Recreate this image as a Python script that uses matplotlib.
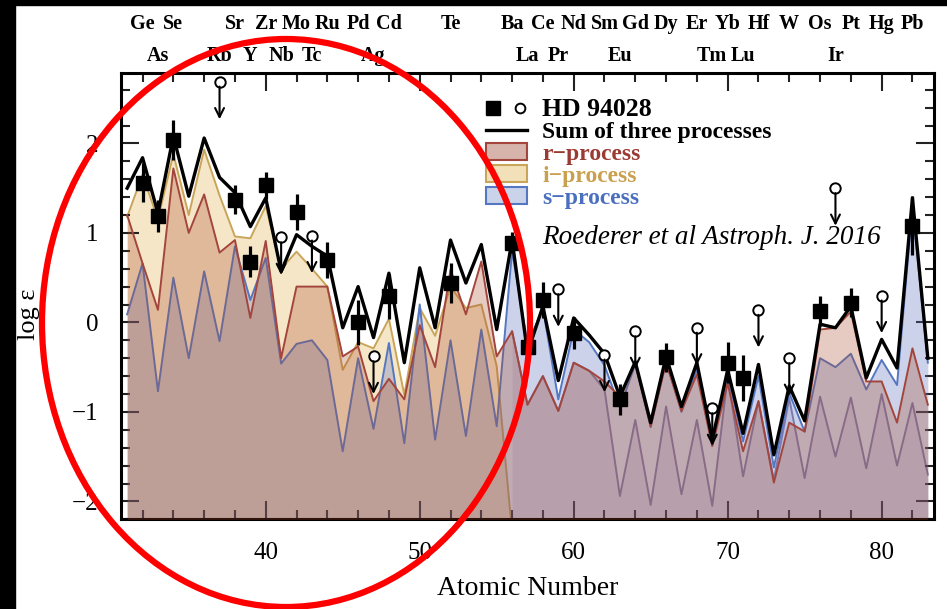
import matplotlib
matplotlib.use("Agg")
import matplotlib.pyplot as plt
import numpy as np
from matplotlib.patches import Rectangle, Ellipse, Patch
from matplotlib.lines import Line2D
from matplotlib.legend_handler import HandlerTuple
from matplotlib.ticker import MultipleLocator

plt.rcParams['font.family'] = ['Liberation Serif', 'DejaVu Serif']

# ---------------- data ----------------
Z = list(range(31, 84))

sum_vals = [1.50, 1.84, 1.22, 2.08, 1.41, 2.06, 1.62, 1.45, 1.07, 1.39,
            0.57, 0.98, 0.85, 0.74, -0.06, 0.40, -0.17, 0.55, -0.45, 0.61,
            -0.06, 0.92, 0.44, 0.87, -0.08, 0.92, -0.34, 0.18, -0.65, 0.05,
            -0.14, -0.35, -0.83, -0.44, -1.12, -0.38, -0.94, -0.45, -1.31, -0.53,
            -1.24, -0.47, -1.48, -0.71, -1.10, -0.02, -0.06, 0.18, -0.62, -0.19,
            -0.51, 1.39, -0.40]

r_vals = [1.20, 0.66, 0.14, 1.72, 1.00, 1.43, 0.78, 0.92, 0.05, 0.91,
          -0.40, 0.40, 0.40, 0.40, -0.38, -0.27, -0.88, -0.63, -0.86, -0.03,
          -0.50, 0.59, 0.09, 0.68, -0.38, -0.10, -0.92, -0.60, -0.99, -0.45,
          -0.54, -0.66, -0.83, -0.45, -1.16, -0.45, -0.99, -0.58, -1.38, -0.68,
          -1.44, -0.88, -1.79, -1.12, -1.22, -0.08, -0.06, 0.12, -0.66, -0.66,
          -1.12, -0.29, -0.92]

# i-process: left part (Z = 31..56) drops off at Ba
i_vals = [1.18, 1.65, 1.15, 1.88, 1.20, 1.93, 1.42, 0.96, 0.94, 1.30,
          0.60, 0.79, 0.60, 0.40, -0.53, -0.22, -0.29, 0.04, -0.81, 0.16,
          -0.15, 0.40, 0.16, 0.20, -0.49, -2.35]

# lower component seen at heavy elements (Z = 56..83)
low_vals = [-0.10, -0.92, -0.60, -0.99, -0.45, -0.54, -0.75, -1.94, -1.09, -2.04,
            -0.94, -1.92, -1.09, -2.05, -0.60, -1.72, -0.88, -1.76, -0.85, -1.74,
            -0.83, -1.50, -0.84, -1.63, -0.80, -1.60, -0.90, -1.70]

s_vals = [0.09, 0.66, -0.77, 0.50, -0.40, 0.57, -0.21, 0.85, 0.25, 0.72,
          -0.46, -0.24, -0.20, -0.42, -1.44, -0.40, -1.19, -0.23, -1.35, 0.20,
          -1.31, -0.20, -1.27, -0.08, -1.16, 0.80, -0.25, 0.16, -0.86, -0.08,
          -0.22, -0.48, -0.95, -0.47, -1.17, -0.43, -1.00, -0.52, -1.38, -0.58,
          -1.33, -0.60, -1.62, -0.79, -1.22, -0.40, -0.50, -0.35, -0.75, -0.42,
          -0.70, 1.30, -0.45]

det_z = [32, 33, 34, 38, 39, 40, 42, 44, 46, 48, 52, 56, 57, 58, 60, 63, 66, 70, 71, 76, 78, 82]
det_v = [1.56, 1.19, 2.04, 1.37, 0.68, 1.53, 1.23, 0.70, 0.00, 0.29, 0.44, 0.89,
         -0.28, 0.25, -0.12, -0.86, -0.39, -0.45, -0.62, 0.13, 0.22, 1.08]
det_err = [0.22, 0.18, 0.22, 0.16, 0.17, 0.15, 0.20, 0.20, 0.25, 0.25, 0.22, 0.12,
           0.15, 0.20, 0.18, 0.17, 0.16, 0.23, 0.26, 0.17, 0.16, 0.33]

ul_z = [37, 41, 43, 47, 59, 62, 64, 68, 69, 72, 74, 77, 80]
ul_v = [2.69, 0.95, 0.97, -0.38, 0.37, -0.36, -0.10, -0.06, -0.96, 0.14, -0.40, 1.50, 0.30]

top_row1 = {32: 'Ge', 34: 'Se', 38: 'Sr', 40: 'Zr', 42: 'Mo', 44: 'Ru', 46: 'Pd', 48: 'Cd',
            52: 'Te', 56: 'Ba', 58: 'Ce', 60: 'Nd', 62: 'Sm', 64: 'Gd', 66: 'Dy', 68: 'Er',
            70: 'Yb', 72: 'Hf', 74: 'W', 76: 'Os', 78: 'Pt', 80: 'Hg', 82: 'Pb'}
top_row2 = {33: 'As', 37: 'Rb', 39: 'Y', 41: 'Nb', 43: 'Tc', 47: 'Ag', 57: 'La', 59: 'Pr',
            63: 'Eu', 69: 'Tm', 71: 'Lu', 77: 'Ir'}

# ---------------- colors ----------------
r_line = '#a3453c'
i_line = '#c9a55a'
s_line = '#5577c2'
low_line = '#8a7ea6'
r_fill = (0.66, 0.28, 0.14, 0.28)
i_fill = (0.93, 0.80, 0.55, 0.48)
s_fill = (0.38, 0.45, 0.75, 0.32)
low_fill = (0.45, 0.40, 0.62, 0.14)

fig = plt.figure(figsize=(9.47, 6.09), dpi=100)
ax = fig.add_axes([121/947, 89.7/609, 813/947, 446.6/609])

floor = -3.0
Zi = Z[:len(i_vals)]
Zl = Z[len(Z) - len(low_vals):]
ax.fill_between(Zi, i_vals, floor, color=i_fill, lw=0, zorder=1)
ax.plot(Zi, i_vals, color=i_line, lw=1.4, zorder=1.1)
ax.fill_between(Zl, low_vals, floor, color=low_fill, lw=0, zorder=1)
ax.plot(Zl, low_vals, color=low_line, lw=1.4, zorder=1.1)
ax.fill_between(Z, s_vals, floor, color=s_fill, lw=0, zorder=2)
ax.plot(Z, s_vals, color=s_line, lw=1.4, zorder=2.1)
ax.fill_between(Z, r_vals, floor, color=r_fill, lw=0, zorder=3)
ax.plot(Z, r_vals, color=r_line, lw=1.4, zorder=3.1)
ax.plot(Z, sum_vals, color='black', lw=2.4, zorder=4)

ax.errorbar(det_z, det_v, yerr=det_err, fmt='s', color='black', ms=10.5,
            elinewidth=2.3, capsize=0, zorder=6)
ax.plot(ul_z, ul_v, 'o', mfc='white', mec='black', mew=1.4, ms=7.5, zorder=6)
for zz, vv in zip(ul_z, ul_v):
    ax.annotate('', xy=(zz, vv - 0.42), xytext=(zz, vv - 0.055),
                arrowprops=dict(arrowstyle='->', lw=1.5, color='black',
                                mutation_scale=16, shrinkA=0, shrinkB=0), zorder=6)

ax.set_xlim(30.6, 83.4)
ax.set_ylim(-2.2, 2.79)
ax.xaxis.set_major_locator(MultipleLocator(10))
ax.xaxis.set_minor_locator(MultipleLocator(2))
ax.yaxis.set_major_locator(MultipleLocator(1))
ax.yaxis.set_minor_locator(MultipleLocator(0.2))
ax.tick_params(which='both', direction='in', top=True, right=True, width=1.5, color='#222222')
ax.tick_params(which='major', length=13, labelsize=18, pad=16)
ax.tick_params(which='minor', length=6.5)
ax.set_yticks([-2, -1, 0, 1, 2])
ax.set_yticklabels(['\u22122', '\u22121', '0', '1', '2'])
for sp in ax.spines.values():
    sp.set_linewidth(2.2)
ax.set_xlabel('Atomic Number', fontsize=20)
ax.xaxis.set_label_coords(0.5, -0.128)
ax.set_ylabel('log \u03b5', fontsize=19)
ax.yaxis.set_label_coords(-0.100, 0.46)

trans = ax.get_xaxis_transform()
for zz, name in top_row1.items():
    ax.text(zz, 1.109, name, transform=trans, ha='center', va='center',
            fontsize=14.5, fontweight='bold', clip_on=False)
for zz, name in top_row2.items():
    ax.text(zz, 1.037, name, transform=trans, ha='center', va='center',
            fontsize=14.5, fontweight='bold', clip_on=False)

handles = [
    (Line2D([], [], marker='s', ls='none', color='black', ms=10),
     Line2D([], [], marker='o', ls='none', mfc='white', mec='black', mew=1.4, ms=7)),
    Line2D([], [], color='black', lw=2.4),
    Patch(facecolor=(0.84, 0.70, 0.67), edgecolor=r_line, lw=1.5),
    Patch(facecolor=(0.95, 0.88, 0.72), edgecolor=i_line, lw=1.5),
    Patch(facecolor=(0.79, 0.83, 0.92), edgecolor=s_line, lw=1.5),
]
labels = ['HD 94028', 'Sum of three processes', 'r\u2212process', 'i\u2212process', 's\u2212process']
leg = ax.legend(handles, labels, loc='upper left', bbox_to_anchor=(0.434, 0.97),
                frameon=False, borderpad=0, handlelength=1.75, handletextpad=0.65,
                labelspacing=0.02, prop={'size': 17, 'weight': 'bold'},
                handler_map={tuple: HandlerTuple(ndivide=None, pad=0.5)})
for t, c in zip(leg.get_texts(), ['black', 'black', '#9b3a33', '#c9a04e', '#4a6fbf']):
    t.set_color(c)
leg.get_texts()[0].set_fontsize(18.5)
leg.set_zorder(7)

ax.text(0.518, 0.63, 'Roederer et al Astroph. J. 2016', transform=ax.transAxes,
        fontsize=19.5, style='italic', ha='left', va='center', zorder=7)

# frame strips and annotation ellipse
fig.patches.append(Rectangle((0, 0), 15/947, 1, transform=fig.transFigure,
                             color='black', zorder=0))
fig.patches.append(Rectangle((0, 1 - 5/609), 1, 5/609, transform=fig.transFigure,
                             color='black', zorder=0))
fig.patches.append(Ellipse((286/947, 1 - 323/609), 488/947, 568/609,
                           transform=fig.transFigure, fill=False, ec='red', lw=4.5, zorder=10))

fig.savefig('out.png', dpi=100)
